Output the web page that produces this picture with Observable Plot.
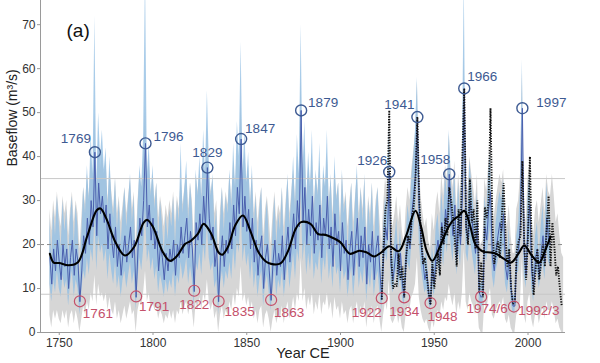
<!DOCTYPE html>
<html><head><meta charset="utf-8">
<script src="https://cdn.jsdelivr.net/npm/d3@7"></script>
<script src="https://cdn.jsdelivr.net/npm/@observablehq/plot@0.6"></script>
<style>body{margin:0;background:#fff}#chart{width:600px;height:363px}</style>
</head><body><div id="chart"></div>
<script>
// ---- data ----
const reconStart = 1745;
const recon = [17,11,19,14,21,
16,12,20,15,19,10,17,21,13,19,
16,7,14,22,18,26,20,30,24,41,
22,34,27,31,25,29,19,27,21,17,
24,15,20,13,18,22,16,20,24,17,
21,8,19,26,22,30,43,24,29,21,
26,19,23,14,20,17,12,18,14,19,
16,21,13,20,17,24,18,22,26,17,
23,19,9.3,25,21,27,20,31,24,37.5,
26,21,24,15,19,7,17,22,15,21,
18,25,19,29,22,33,27,44,24,31,
23,28,19,26,16,21,13,19,22,10,
17,20,14,7.3,16,21,13,18,15,22,
12,19,24,16,21,27,19,30,24,50.5,
25,33,20,28,22,31,18,25,21,29,
17,26,22,31,19,24,15,27,20,23,
14,25,18,21,12,19,23,13,20,26,
15,22,17,24,11,20,16,23,12,19,
22,14,7.5,18,24,21,36.5,15,12,16,
20,13,18,11,8,17,22,19,27,31,
36,49,28,20,16,12,14,9,6.3,15,
11,18,21,16,25,20,28,24,36,27,
22,29,17,26,20,31,55.5,24,21,30,
26,22,18,25,9,8,8.5,24,21,28,
32,17,14,19,22,25,23,27,15,12,
18,10,6,6,17,19,25,51,18,13,
24,29,14,10,17,19,13,18,22,16,
26,21,20];
const blueLo = [11,7,12,9,14,
10,8,13,10,12,6,11,14,8,12,
10,4,9,14,12,17,13,19,16,26,
14,22,18,20,16,19,12,18,14,11,
16,10,13,8,12,14,10,13,16,11,
14,5,12,17,14,19,28,16,19,14,
17,12,15,9,13,11,8,12,9,12,
10,14,8,13,11,16,12,14,17,11,
15,12,6,16,14,18,13,20,16,25,
17,14,16,10,12,4,11,14,10,14,
12,16,12,19,14,21,18,29,16,20,
15,18,12,17,10,14,8,12,14,6,
11,13,9,5,10,14,8,12,10,14,
8,12,16,10,14,18,12,19,16,33,
16,21,13,18,14,20,12,16,14,19,
11,17,14,20,12,16,10,18,13,15,
9,16,12,14,8,12,15,8,13,17,
10,14,11,16,7,13,10,15,8,12,
14,9,5,13,18,16,27,11,9,12,
15,10,13,8,6,13,16,14,20,23,
27,37,21,15,12,9,10,7,5,11,
8,13,16,12,19,15,21,18,27,20,
16,22,13,19,15,23,42,18,16,22,
19,16,13,19,7,6,6,18,16,21,
24,13,10,14,16,19,17,20,11,9,
13,7,4.5,4.5,13,14,19,38,13,10,
18,22,10,7,13,14,10,13,16,12,
19,16,15];
const blueHi = [26,17,28,22,31,
25,19,30,23,28,16,26,31,20,29,
24,12,22,33,27,38,30,45,36,72,
33,50,40,46,37,42,28,40,31,26,
35,23,30,20,27,33,24,30,36,25,
31,13,28,38,33,45,82,36,43,31,
38,28,34,21,30,25,18,27,21,28,
24,31,20,30,25,43,27,33,39,25,
34,28,14,37,31,40,30,46,36,55,
39,31,36,23,28,12,25,33,23,31,
27,37,28,43,33,48,40,66,36,46,
34,41,28,38,24,31,20,28,33,16,
25,30,21,12,24,31,20,27,23,33,
18,28,36,24,31,40,28,45,36,70,
37,48,30,41,33,46,27,37,31,43,
25,38,33,46,28,36,23,40,30,34,
21,37,27,31,18,28,34,20,30,38,
23,33,25,36,17,30,24,34,18,28,
33,21,11,24,31,27,47,20,16,21,
26,17,24,15,11,22,29,25,35,40,
46,58,36,26,21,16,19,12,9,20,
15,24,27,21,32,26,36,31,46,35,
29,37,22,34,26,40,80,31,27,39,
34,29,24,32,12,11,12,31,27,36,
41,22,19,25,29,32,30,35,20,16,
24,14,8.5,8.5,22,25,32,62,24,17,
31,37,19,14,22,25,17,24,29,21,
34,27,26];
const grayStart = 1745;
const grayLo = [4,1,5,3,5,
3,2,5,3,5,1,4,5,2,5,
3,0,3,6,4,7,5,9,7,13,
6,11,8,9,7,9,5,8,5,4,
7,3,5,2,4,6,3,5,7,4,
5,0,5,7,6,9,14,7,9,5,
7,5,6,3,5,4,2,4,3,5,
3,5,2,5,4,7,4,6,7,4,
6,5,1,7,5,8,5,9,7,12,
7,5,7,3,5,0,4,6,3,5,
4,7,5,9,6,10,8,15,7,9,
6,8,5,7,3,5,2,5,6,1,
4,5,3,0,3,5,2,4,3,6,
2,5,7,3,5,8,5,9,7,17,
7,10,5,8,6,9,4,7,5,9,
4,7,6,9,5,7,3,8,5,6,
3,7,4,5,2,5,6,2,5,7,
3,6,4,7,1,5,3,6,2,5,
6,3,0,4,7,5,12,3,2,3,
5,2,4,1,0,4,6,5,8,9,
11,17,8,5,3,2,3,1,0,3,
1,4,5,3,7,5,8,7,11,8,
6,9,4,7,5,9,19,7,5,9,
7,6,4,7,1,0,0,7,5,8,
10,4,3,5,6,7,6,8,3,2,
4,1,0,0,4,5,7,17,4,2,
7,9,3,1,4,5,2,4,6,3,
7,5,5,7,5,2,3,1,0,0];
const grayHi = [28,23,30,26,32,
27,24,31,27,30,22,28,32,25,30,
27,19,26,33,29,36,31,40,35,50,
33,44,37,41,36,39,30,37,32,28,
35,27,31,25,29,33,27,31,35,28,
32,20,30,36,33,40,52,35,39,32,
36,30,34,26,31,28,24,29,26,30,
27,32,25,31,28,35,29,33,36,28,
34,30,21,36,32,37,31,41,35,47,
36,32,35,27,30,19,28,33,27,32,
29,36,30,39,33,43,37,53,35,41,
34,38,30,36,27,32,25,30,33,22,
28,31,26,20,27,32,25,29,27,33,
24,30,35,27,32,37,30,40,35,58,
36,43,31,38,33,41,29,36,32,39,
28,36,33,41,30,35,27,37,31,34,
26,36,29,32,24,30,34,25,31,36,
27,33,28,35,23,31,27,34,24,30,
33,26,20,29,35,32,46,27,24,27,
31,25,29,23,20,28,33,30,37,41,
45,57,38,31,27,24,26,21,19,27,
23,29,32,27,36,31,38,35,45,37,
33,39,28,36,31,41,63,35,32,40,
36,33,29,36,21,20,21,35,32,38,
42,28,26,30,33,36,34,37,27,24,
29,22,18,18,28,30,36,59,29,25,
35,39,26,22,28,30,25,29,33,27,
36,32,31,36,31,25,27,22,18,17];
const obsStart = 1922;
const observed = [7.5,20,28,30,50.5,18,10,11,
10.5,18,12,15,8,17,22,20,26,28.5,
35,49,30,22,15.6,17,13,9,6.3,16,
10,14,18,13,24,20,26,22,33,30,
26,21,15,28,22,40,55.5,24,20,35,
25,28,19,30,9,16,8,28.5,26,30,
51,25,15.6,18,20.7,17,26,34,22,14.8,
19,10,6.5,7,18.6,20.7,22,39,20,12,
22,40,18,8.5,14,19,12,16,20,15,
24,31,15,25,20,13,15,10,6];
const smoothYears = [1745,1747,1750,1755,1760,1765,1770,1772,1775,1780,1785,1790,1795,1797,1800,1805,1809,1813,1817,1820,1824,1827,1831,1835,1837,1840,1844,1848,1852,1856,1860,1863,1868,1872,1876,1879,1884,1888,1892,1896,1900,1905,1910,1914,1918,1922,1926,1931,1935,1940,1943,1946,1949,1953,1957,1960,1963,1966,1969,1972,1976,1980,1983,1987,1991,1995,1998,2002,2006,2009,2012];
const smoothVals = [17.9,15.9,15.8,15.3,16.0,22,27.8,28.2,26,20.5,17.5,19.5,25,25.6,24,18.5,16.3,17.5,20.1,20.8,22.5,24.7,22.5,18.2,17.7,19.5,24.5,26.6,23,18.5,16.2,15.6,15.7,18.5,23.5,25.1,24.7,22.4,22.2,21.5,20.5,17.9,18.6,18.2,17.3,18.3,19.6,18.5,22,27.7,24,18.5,16.3,19.5,23.5,25.5,26.5,27.7,24.5,20,18.4,18.2,17.9,16.8,15.9,18,19.8,17.5,15.9,18.5,21.8];
const highYears = [1769,1796,1829,1847,1879,1926,1941,1958,1966,1997];
const highVals = [41,43,37.5,44,50.5,36.5,49,36,55.5,51];
const highLabels = ["1769","1796","1829","1847","1879","1926","1941","1958","1966","1997"];
const lowYears = [1761,1791,1822,1835,1863,1922,1934,1948,1975,1992.5];
const lowVals = [7.1,8.2,9.5,7.1,7.4,7.8,8,6.7,8.1,5.9];
const lowLabels = ["1761","1791","1822","1835","1863","1922","1934","1948","1974/6","1992/3"];
const thresholds = [35, 20, 8.7];
const xTicks = [1750,1800,1850,1900,1950,2000];
const yTicks = [0,10,20,30,40,50,60,70];

// ---- label placement (style) ----
const highOff = [[-19,-14],[23,-7],[0,-15],[19,-10],[22,-8],[-17,-11],[-18,-12],[-14,-15],[18,-12],[29,-6]];
const lowOff = [[18,12],[18,10],[0,14],[21,10],[18,13],[-15,14],[0,14],[12,14],[6,12],[25,4]];

// ---- tables ----
const reconData = recon.map((v,i)=>({year: reconStart+i, v, lo: blueLo[i], hi: blueHi[i]}));
const grayData = grayLo.map((v,i)=>({year: grayStart+i, lo: v, hi: grayHi[i]}));
const obsData = observed.map((v,i)=>({year: obsStart+i, v}));
const smoothData = smoothYears.map((y,i)=>({year:y, v: smoothVals[i]}));
const high = highYears.map((y,i)=>({year:y, v:highVals[i], label:highLabels[i]}));
const low = lowYears.map((y,i)=>({year:y, v:lowVals[i], label:lowLabels[i]}));

const BLUE = "#3d5a92", RED = "#c4506a";
const FONT = "'Liberation Sans', Arial, Helvetica, sans-serif";

const chart = Plot.plot({
  width: 600, height: 363,
  marginLeft: 40, marginRight: 35, marginTop: 0, marginBottom: 31,
  style: {fontFamily: FONT, fontSize: "12px", color: "#333", background: "#fff"},
  x: {domain: [1740, 2020]},
  y: {domain: [0, 75.5]},
  marks: [
    Plot.areaY(grayData, {x: "year", y1: "lo", y2: "hi", fill: "#d6d6d6", clip: true}),
    Plot.areaY(reconData, {x: "year", y1: "lo", y2: "hi", fill: "#93bfe4", fillOpacity: 0.8, clip: true}),
    Plot.ruleY([thresholds[0]], {stroke: "#c8c8c8", strokeWidth: 1}),
    Plot.ruleY([thresholds[1]], {stroke: "#8a8a8a", strokeWidth: 1, strokeDasharray: "4,3"}),
    Plot.ruleY([thresholds[2]], {stroke: "#c8c8c8", strokeWidth: 1}),
    Plot.line(reconData, {x: "year", y: "v", stroke: "#4a5fae", strokeWidth: 1, clip: true}),
    Plot.line(obsData, {x: "year", y: "v", stroke: "#111", strokeWidth: 1.9, strokeDasharray: "1.3,1.3", strokeLinecap: "butt", strokeLinejoin: "miter", clip: true}),
    Plot.line(smoothData, {x: "year", y: "v", curve: "catmull-rom", stroke: "#000", strokeWidth: 2.1}),
    Plot.dot(high, {x: "year", y: "v", r: 5.5, stroke: BLUE, strokeWidth: 1.4, fill: "none"}),
    Plot.dot(low, {x: "year", y: "v", r: 5.5, stroke: RED, strokeWidth: 1.2, fill: "none"}),
    ...high.map((d,i)=>Plot.text([d], {x: "year", y: "v", text: "label", dx: highOff[i][0], dy: highOff[i][1], fill: BLUE, fontSize: 13.5})),
    ...low.map((d,i)=>Plot.text([d], {x: "year", y: "v", text: "label", dx: lowOff[i][0], dy: lowOff[i][1], fill: RED, fontSize: 13.5})),
    Plot.ruleX([1740], {stroke: "#9a9a9a"}),
    Plot.ruleY([0], {stroke: "#9a9a9a"}),
    Plot.axisX({ticks: xTicks, tickFormat: d => String(d), tickSize: 3, tickPadding: 3, stroke: "#9a9a9a", label: null}),
    Plot.axisY({ticks: yTicks, tickSize: 3, tickPadding: 2, stroke: "#9a9a9a", label: null}),
    Plot.text(["Baseflow (m³/s)"], {frameAnchor: "left", rotate: -90, dx: -28, fontSize: 14, fill: "#222"}),
    Plot.text(["Year CE"], {frameAnchor: "bottom", dy: 25, fontSize: 14.5, fill: "#222"}),
    Plot.text(["(a)"], {frameAnchor: "top-left", dx: 26, dy: 23, fontSize: 19, fill: "#111"})
  ]
});
document.getElementById("chart").appendChild(chart);
</script>
</body></html>
